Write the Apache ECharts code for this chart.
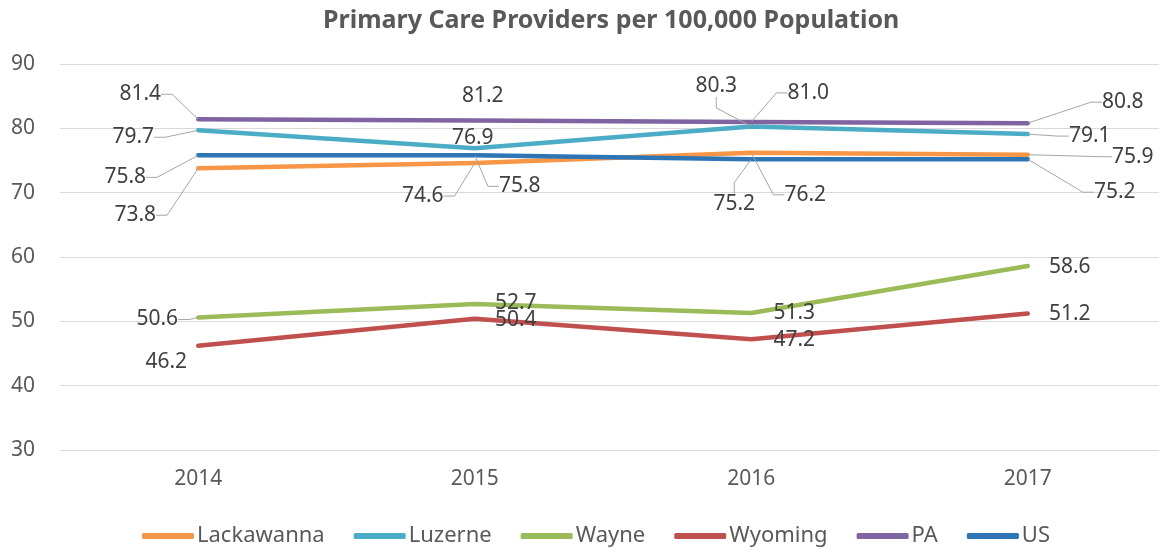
<!DOCTYPE html>
<html>
<head>
<meta charset="utf-8">
<title>Primary Care Providers per 100,000 Population</title>
<script src="https://cdn.jsdelivr.net/npm/echarts@6/dist/echarts.min.js"></script>
<style>
    html, body {margin: 0; padding: 0; background: #fff;}
    #chart {width: 1159px; height: 550px;}
</style>
</head>
<body>
<div id="chart"></div>
<script>
    // 数据
    const years = ['2014', '2015', '2016', '2017'];
    const lackawanna = [73.8, 74.6, 76.2, 75.9];
    const luzerne = [79.7, 76.9, 80.3, 79.1];
    const wayne = [50.6, 52.7, 51.3, 58.6];
    const wyoming = [46.2, 50.4, 47.2, 51.2];
    const pa = [81.4, 81.2, 81.0, 80.8];
    const us = [75.8, 75.8, 75.2, 75.2];
    const yTicks = {min: 30, max: 90, step: 10};

    const FONT = '"Noto Sans", "Open Sans", sans-serif';

    // 标签偏移（相对数据点，像素）以及是否画引导线
    const seriesDefs = [
        {name: 'Lackawanna', values: lackawanna, color: '#F79646',
            shift: [[-63, 47], [-52, 33], [54, 42], [105, 2]], leader: [true, true, true, true]},
        {name: 'Luzerne', values: luzerne, color: '#4BACC6',
            shift: [[-65, 7], [-2, -10], [-35, -40], [62, 2]], leader: [true, false, true, true]},
        {name: 'Wayne', values: wayne, color: '#9BBB59',
            shift: [[-41, 2], [41, -1], [43, 0], [42, 1]], leader: [true, false, false, false]},
        {name: 'Wyoming', values: wyoming, color: '#C0504D',
            shift: [[-32, 16], [41, 1], [43, 1], [42, 0]], leader: [false, false, false, false]},
        {name: 'PA', values: pa, color: '#8064A2',
            shift: [[-58, -25], [8, -25], [57, -29], [95, -21]], leader: [true, false, true, true]},
        {name: 'US', values: us, color: '#2E75B6',
            shift: [[-73, 22], [45, 31], [-17, 45], [87, 33]], leader: [true, true, true, true]}
    ];

    function buildSeries(def) {
        return {
            name: def.name,
            type: 'line',
            symbol: 'circle',
            symbolSize: 1,
            showSymbol: true,
            color: def.color,
            lineStyle: {width: 4.5, color: def.color, cap: 'round', join: 'round'},
            itemStyle: {color: def.color},
            data: def.values.map(function (v, i) {
                return {value: v, labelLine: {show: def.leader[i]}};
            }),
            label: {
                show: true,
                position: 'inside',
                formatter: function (p) {
                    return p.value.toFixed(1);
                },
                color: '#404040',
                fontFamily: FONT,
                fontSize: 21,
                padding: [1, 6]
            },
            labelLine: {
                show: true,
                length2: 11,
                smooth: false,
                lineStyle: {color: '#A6A6A6', width: 1}
            },
            labelLayout: function (params) {
                const s = def.shift[params.dataIndex];
                return {
                    x: params.rect.x + params.rect.width / 2 + s[0],
                    y: params.rect.y + params.rect.height / 2 + s[1],
                    align: 'center',
                    verticalAlign: 'middle'
                };
            },
            emphasis: {disabled: true},
            animation: false
        };
    }

    const option = {
        backgroundColor: '#fff',
        animation: false,
        title: {
            text: 'Primary Care Providers per 100,000 Population',
            left: 318,
            top: 3,
            textStyle: {
                color: '#595959',
                fontFamily: FONT,
                fontWeight: 'bold',
                fontSize: 25
            }
        },
        legend: {
            data: seriesDefs.map(function (d) { return d.name; }),
            left: 137,
            top: 519,
            icon: 'roundRect',
            itemWidth: 52,
            itemHeight: 6,
            itemGap: 29,
            textStyle: {
                color: '#595959',
                fontFamily: FONT,
                fontSize: 22,
                lineHeight: 24,
                padding: [0, 0, 0, -2]
            }
        },
        grid: {
            left: 60,
            right: -7,
            top: 64,
            bottom: 100,
            containLabel: false,
            outerBoundsMode: 'none'
        },
        xAxis: {
            type: 'category',
            data: years,
            boundaryGap: true,
            axisLine: {show: false},
            axisTick: {show: false},
            axisLabel: {
                color: '#595959',
                fontFamily: FONT,
                fontSize: 21,
                margin: 19
            }
        },
        yAxis: {
            type: 'value',
            min: yTicks.min,
            max: yTicks.max,
            interval: yTicks.step,
            axisLine: {show: false},
            axisTick: {show: false},
            splitLine: {lineStyle: {color: '#D9D9D9', width: 1}},
            axisLabel: {
                color: '#595959',
                fontFamily: FONT,
                fontSize: 21,
                margin: 25
            }
        },
        series: seriesDefs.map(buildSeries)
    };

    const chart = echarts.init(document.getElementById('chart'), null, {renderer: 'canvas'});
    chart.setOption(option);
</script>
</body>
</html>
